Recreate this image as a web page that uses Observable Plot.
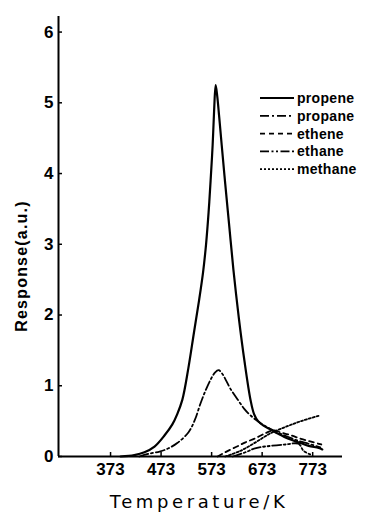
<!DOCTYPE html>
<html>
<head>
<meta charset="utf-8">
<script src="https://cdn.jsdelivr.net/npm/d3@7"></script>
<script src="https://cdn.jsdelivr.net/npm/@observablehq/plot@0.6"></script>
<style>
  html, body { margin: 0; padding: 0; background: #fff; }
  #chart { position: relative; width: 369px; height: 514px; }
</style>
</head>
<body>
<div id="chart"></div>
<script>
// ---- Data ----
const xTicks = [373, 473, 573, 673, 773];
const yTicks = [0, 1, 2, 3, 4, 5, 6];
const seriesNames = ["propene", "propane", "ethene", "ethane", "methane"];

const propeneT = [393, 420, 440, 460, 480, 495, 505, 515, 527, 538, 548, 556, 562, 567, 571, 575, 578, 581, 584, 588, 593, 600, 608, 616, 627, 638, 650, 657, 665, 675, 690, 705, 725, 745, 765, 785, 792];
const propeneV = [0.0, 0.02, 0.06, 0.14, 0.3, 0.45, 0.6, 0.8, 1.25, 1.75, 2.2, 2.6, 3.0, 3.45, 3.9, 4.4, 4.9, 5.25, 5.1, 4.8, 4.4, 3.85, 3.25, 2.65, 1.95, 1.35, 0.8, 0.6, 0.5, 0.44, 0.38, 0.32, 0.25, 0.2, 0.15, 0.12, 0.1];

const propaneT = [430, 450, 470, 486, 505, 527, 540, 551, 562, 572, 580, 587, 594, 602, 610, 626, 638, 650, 672, 695, 720, 745, 765, 788];
const propaneV = [0.0, 0.04, 0.07, 0.11, 0.19, 0.34, 0.52, 0.75, 0.95, 1.1, 1.19, 1.22, 1.17, 1.07, 0.96, 0.79, 0.67, 0.58, 0.46, 0.37, 0.29, 0.22, 0.18, 0.13];

const etheneT = [585, 600, 620, 640, 660, 680, 695, 710, 730, 750, 770, 790];
const etheneV = [0.0, 0.06, 0.13, 0.2, 0.26, 0.33, 0.37, 0.34, 0.3, 0.25, 0.21, 0.17];

const ethaneT = [615, 640, 661, 690, 720, 745, 755, 768];
const ethaneV = [0.0, 0.06, 0.12, 0.15, 0.17, 0.18, 0.08, 0.03];

const methaneT = [600, 630, 660, 690, 720, 750, 787];
const methaneV = [0.0, 0.08, 0.2, 0.33, 0.42, 0.5, 0.58];

const xTitle = "Temperature/K";
const yTitle = "Response(a.u.)";

const dashes = {
  propene: null,
  propane: "9,3,2,3",
  ethene: "5,4",
  ethane: "9,2.5,2,2.5,2,2.5",
  methane: "2,2"
};

// ---- Build tidy table ----
const sources = {
  propene: [propeneT, propeneV],
  propane: [propaneT, propaneV],
  ethene: [etheneT, etheneV],
  ethane: [ethaneT, ethaneV],
  methane: [methaneT, methaneV]
};
const rows = {};
for (const name of seriesNames) {
  const [t, v] = sources[name];
  rows[name] = t.map((T, i) => ({T, v: v[i], name}));
}

const font = "'Liberation Sans', Arial, sans-serif";

const plot = Plot.plot({
  width: 369,
  height: 514,
  marginLeft: 58,
  marginRight: 27,
  marginTop: 16,
  marginBottom: 58,
  style: {fontFamily: font, background: "#fff", color: "#000"},
  x: {domain: [270, 832]},
  y: {domain: [0, 6.22]},
  marks: [
    Plot.axisX({ticks: xTicks, tickSize: -4, tickPadding: 10, label: null,
      fontSize: 17, fontWeight: "bold", tickFormat: d => String(d), strokeWidth: 1.5}),
    Plot.axisY({ticks: yTicks, tickSize: -4, tickPadding: 9, label: null,
      fontSize: 17, fontWeight: "bold", tickFormat: d => String(d), strokeWidth: 1.5}),
    Plot.ruleX([270], {strokeWidth: 2}),
    Plot.ruleY([0], {strokeWidth: 2}),
    ...seriesNames.map(name =>
      Plot.line(rows[name], {
        x: "T", y: "v",
        stroke: "#000",
        strokeWidth: name === "propene" ? 2.2 : 1.8,
        strokeDasharray: dashes[name],
        curve: "catmull-rom"
      })
    )
  ]
});

document.getElementById("chart").appendChild(plot);

const svg = d3.select(plot);

// ---- Axis titles ----
svg.append("text")
  .attr("transform", "translate(21,266) rotate(-90)")
  .attr("text-anchor", "middle")
  .attr("dy", "0.35em")
  .attr("font-family", font)
  .attr("font-size", 16)
  .attr("font-weight", "bold")
  .attr("letter-spacing", "1.2px")
  .attr("fill", "#000")
  .text(yTitle);

svg.append("text")
  .attr("x", 199).attr("y", 508)
  .attr("text-anchor", "middle")
  .attr("font-family", "'DejaVu Sans', sans-serif")
  .attr("font-size", 18)
  .attr("letter-spacing", "3.6px")
  .attr("fill", "#000")
  .text(xTitle);

// ---- Legend (inside the plot, upper right) ----
const lg = svg.append("g").attr("class", "legend");
seriesNames.forEach((name, i) => {
  const y = 98 + i * 17.8;
  lg.append("line")
    .attr("x1", 260).attr("x2", 294)
    .attr("y1", y).attr("y2", y)
    .attr("stroke", "#000")
    .attr("stroke-width", name === "propene" ? 2.2 : 1.8)
    .attr("stroke-dasharray", dashes[name]);
  lg.append("text")
    .attr("x", 297).attr("y", y)
    .attr("dy", "0.35em")
    .attr("text-anchor", "start")
    .attr("font-family", font)
    .attr("font-size", 14)
    .attr("font-weight", "bold")
    .attr("letter-spacing", "0.3px")
    .attr("fill", "#000")
    .text(name);
});
</script>
</body>
</html>
